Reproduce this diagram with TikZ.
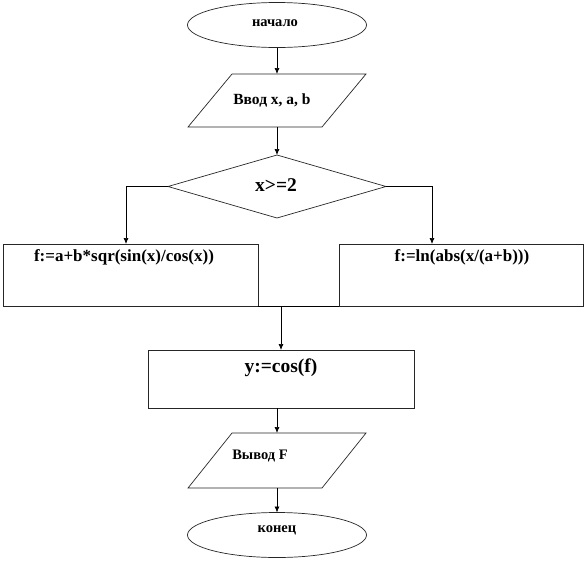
\documentclass[tikz,border=0pt]{standalone}
\usepackage{fontspec}
\setmainfont{Liberation Serif}
\usetikzlibrary{shapes.geometric,arrows.meta}
\tikzset{
  shp/.style={draw=black!85, line width=0.7pt, inner sep=0pt, outer sep=0pt},
  term/.style={shp, ellipse, minimum width=179pt, minimum height=45pt},
  io/.style={inner sep=0pt, outer sep=0pt, rectangle, minimum width=134pt},
  iobord/.style={draw=black!85, line width=0.7pt},
  proc/.style={shp, rectangle},
  dec/.style={shp, diamond, aspect=3.46, minimum width=218pt, minimum height=63pt},
  txs/.style={font=\bfseries\fontsize{14.5}{16}\selectfont, inner sep=0pt},
  txm/.style={font=\bfseries\fontsize{15.5}{17}\selectfont, inner sep=0pt},
  txl/.style={font=\bfseries\fontsize{17}{19}\selectfont, inner sep=0pt},
  txx/.style={font=\bfseries\fontsize{19.5}{21}\selectfont, inner sep=0pt},
  conn/.style={line width=0.7pt, -{Latex[length=6pt,width=5pt]}},
  seg/.style={line width=0.7pt}
}
\newcommand{\parbord}[1]{%
  \draw[iobord] ([xshift=22pt]#1.north west) -- ([xshift=22pt]#1.north east)
    -- ([xshift=-22pt]#1.south east) -- ([xshift=-22pt]#1.south west) -- cycle;}
\begin{document}
\begin{tikzpicture}[x=1pt,y=-1pt]
\useasboundingbox (0,0) rectangle (587,563);
\node[term] (start) at (277,25) {};
\node[io, minimum height=53pt] (inp) at (277,100.5) {};
\parbord{inp}
\node[dec] (cond) at (277,186.5) {};
\node[proc, minimum width=255pt, minimum height=62pt] (fa) at (130.5,275) {};
\node[proc, minimum width=244pt, minimum height=62pt] (fb) at (461,275) {};
\node[proc, minimum width=266pt, minimum height=58pt] (calc) at (281,379) {};
\node[io, minimum height=55pt] (out) at (277,460.5) {};
\parbord{out}
\node[term] (stop) at (277,535) {};

\node[txs] (tstart) at (275,23) {начало};
\node[txm] (tinp) at (272,100) {Ввод x, a, b};
\node[txx] (tcond) at (276,185) {x>=2};
\node[txl] (tfa) at (124,257) {f:=a+b*sqr(sin(x)/cos(x))};
\node[txl] (tfb) at (462,257) {f:=ln(abs(x/(a+b)))};
\node[txx] (tcalc) at (281,368) {y:=cos(f)};
\node[txs] (tout) at (260,456) {Вывод F};
\node[txs] (tstop) at (277,530) {конец};

\coordinate (j) at (calc.north |- fa.south);

\draw[conn] (start.south) -- (inp.north);
\draw[conn] (inp.south) -- (cond.north);
\draw[conn] (cond.west) -| ([xshift=-4.5pt]fa.north);
\draw[conn] (cond.east) -| ([xshift=-29pt]fb.north);
\draw[seg] (fa.south east) -- (j);
\draw[seg] (fb.south west) -- (j);
\draw[conn] (j) -- (calc.north);
\draw[conn] (out.north |- calc.south) -- (out.north);
\draw[conn] (out.south) -- (stop.north);
\end{tikzpicture}
\end{document}
